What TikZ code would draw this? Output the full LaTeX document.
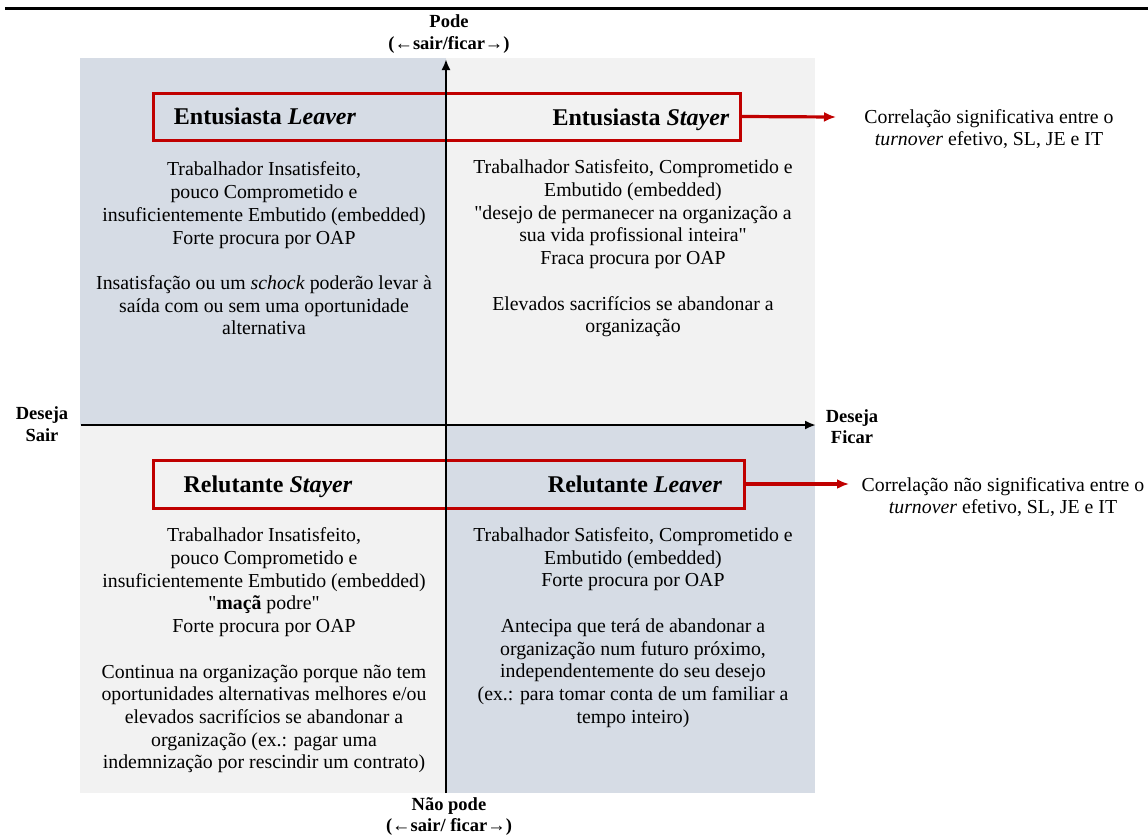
\documentclass[tikz,border=0pt]{standalone}
\usepackage{fontspec}
\setmainfont{Liberation Serif}[Ligatures=TeXOff]
\usetikzlibrary{arrows.meta}
\definecolor{quadblue}{HTML}{D6DCE5}
\definecolor{quadgrey}{HTML}{F2F2F2}
\definecolor{boxred}{HTML}{C00000}

\begin{document}
\begin{tikzpicture}[x=1pt,y=-1pt,
  body/.style={align=center, font=\fontsize{19.8}{22.7}\selectfont, inner sep=0pt},
  title/.style={font=\fontsize{24}{28}\selectfont\bfseries, inner sep=0pt},
  axislabel/.style={align=center, font=\fontsize{18.5}{21.5}\selectfont\bfseries, inner sep=0pt},
  redbox/.style={draw=boxred, line width=3pt, inner sep=0pt},
  redarrow/.style={draw=boxred, line width=3.2pt, -{Latex[length=12pt,width=10pt]}},
  axisline/.style={line width=2.6pt, -{Latex[length=11pt,width=9pt]}},
]
\useasboundingbox (0,0) rectangle (1148,839);

% rule across the top
\draw[line width=3pt] (5,8) -- (1148,8);

% quadrant backgrounds
\fill[quadblue] (80,58) rectangle (446,425);
\fill[quadgrey] (446,58) rectangle (815,425);
\fill[quadgrey] (80,425) rectangle (446,793);
\fill[quadblue] (446,425) rectangle (815,793);

% red frames around the quadrant titles
\node[redbox, minimum width=587pt, minimum height=47pt] (boxtop) at (446.5,116.5) {};
\node[redbox, minimum width=591pt, minimum height=48pt] (boxbot) at (448.5,484) {};

% axes
\coordinate (vbot) at (446,793);
\coordinate (vtop) at (446,59);
\coordinate (hleft) at (81,425);
\coordinate (hright) at (816,425);
\draw[axisline] (vbot) -- (vtop);
\draw[axisline] (hleft) -- (hright);

% axis labels
\node[axislabel] (pode) at (449,34) {Pode\\(←sair/ficar→)};
\node[axislabel] (naopode) at (449,816.5) {Não pode\\(←sair/ ficar→)};
\node[axislabel] (sair) at (42,424) {Deseja\\Sair};
\node[axislabel] (ficar) at (852,426.5) {Deseja\\Ficar};

% quadrant titles
\node[title] (tlt) at (265,116) {Entusiasta \textit{Leaver}};
\node[title] (trt) at (641,120) {Entusiasta \textit{Stayer}};
\node[title] (blt) at (268,487) {Relutante \textit{Stayer}};
\node[title] (brt) at (635,484) {Relutante \textit{Leaver}};

% quadrant descriptions
\node[body] (tlbody) at (264,248.5) {Trabalhador Insatisfeito,\\ pouco Comprometido e\\ insuficientemente Embutido (embedded)\\ Forte procura por OAP\\[22.7pt] Insatisfação ou um \textit{schock} poderão levar à\\ saída com ou sem uma oportunidade\\ alternativa};
\node[body] (trbody) at (633,248.5) {Trabalhador Satisfeito, Comprometido e\\ Embutido (embedded)\\ "desejo de permanecer na organização a\\ sua vida profissional inteira"\\ Fraca procura por OAP\\[22.7pt] Elevados sacrifícios se abandonar a\\ organização};
\node[body] (blbody) at (264,650.5) {Trabalhador Insatisfeito,\\ pouco Comprometido e\\ insuficientemente Embutido (embedded)\\ "\textbf{maçã} podre"\\ Forte procura por OAP\\[22.7pt] Continua na organização porque não tem\\ oportunidades alternativas melhores e/ou\\ elevados sacrifícios se abandonar a\\ organização (ex.: pagar uma\\ indemnização por rescindir um contrato)};
\node[body] (brbody) at (633,627.5) {Trabalhador Satisfeito, Comprometido e\\ Embutido (embedded)\\ Forte procura por OAP\\[22.7pt] Antecipa que terá de abandonar a\\ organização num futuro próximo,\\ independentemente do seu desejo\\ (ex.: para tomar conta de um familiar a\\ tempo inteiro)};

% correlation notes
\node[body] (corrtop) at (989,129) {Correlação significativa entre o\\ \textit{turnover} efetivo, SL, JE e IT};
\node[body] (corrbot) at (1003,497) {Correlação não significativa entre o\\ \textit{turnover} efetivo, SL, JE e IT};
\coordinate (tiptop) at (836,117);
\coordinate (tipbot) at (849,484);
\draw[redarrow] (boxtop.east) -- (tiptop);
\draw[redarrow] (boxbot.east) -- (tipbot);
\end{tikzpicture}
\end{document}
